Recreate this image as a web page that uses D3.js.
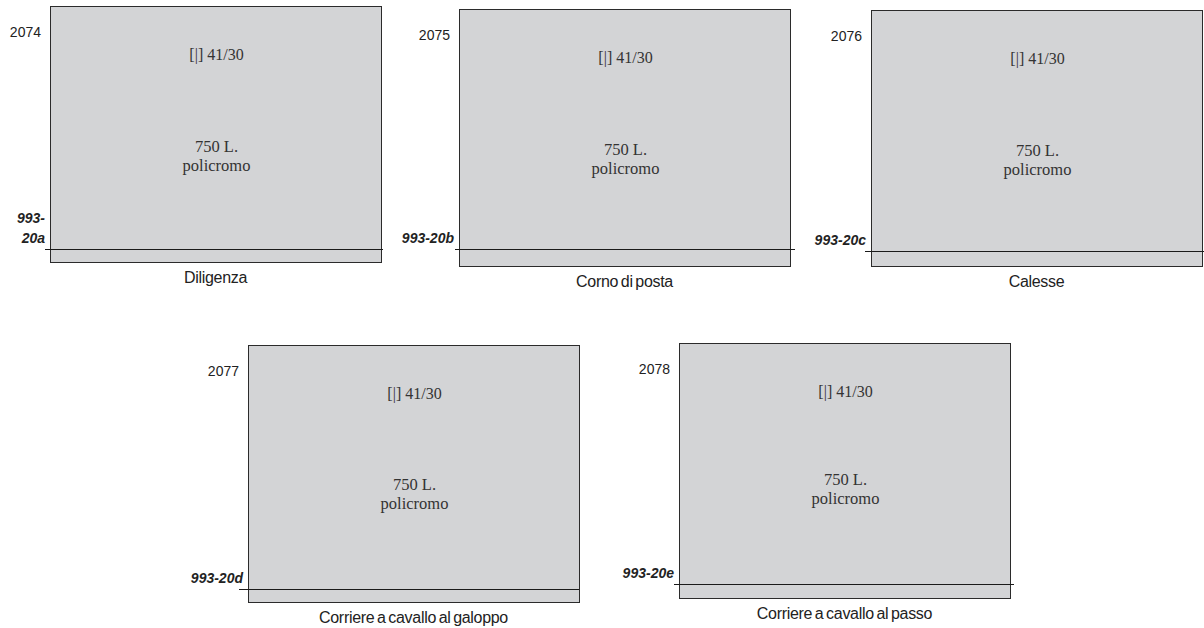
<!DOCTYPE html>
<html>
<head>
<meta charset="utf-8">
<script src="https://cdn.jsdelivr.net/npm/d3@7"></script>
<style>
  body { margin: 0; background: #fff; }
  svg { display: block; }
</style>
</head>
<body>
<div id="sheet"></div>
<script>

var numbers = ["2074", "2075", "2076", "2077", "2078"];
var codes = [["993-", "20a"], ["993-20b"], ["993-20c"], ["993-20d"], ["993-20e"]];
var captions = ["Diligenza", "Corno di posta", "Calesse", "Corriere a cavallo al galoppo", "Corriere a cavallo al passo"];
var perforation = ["[|] 41/30", "[|] 41/30", "[|] 41/30", "[|] 41/30", "[|] 41/30"];
var values = ["750 L.", "750 L.", "750 L.", "750 L.", "750 L."];
var colours = ["policromo", "policromo", "policromo", "policromo", "policromo"];

// where each stamp box sits on the page (left, top, height, line offset from bottom,
// line overhang left/right, small shift of the middle text)
var layout = [
  {x: 50,  y: 6,   h: 256, line: 13, l: 5, r: 2, ty: 0},
  {x: 459, y: 9,   h: 257, line: 17, l: 4, r: 5, ty: 0},
  {x: 871, y: 10,  h: 256, line: 15, l: 6, r: 2, ty: 0},
  {x: 248, y: 345, h: 257, line: 13, l: 9, r: 0, ty: -1},
  {x: 679, y: 343, h: 255, line: 14, l: 5, r: 4, ty: -4}
];
var boxW = 331;

var width = 1204, height = 628;

var svg = d3.select("#sheet")
  .append("svg")
    .attr("width", width)
    .attr("height", height);

var data = numbers.map(function(n, i) {
  return {num: n, code: codes[i], caption: captions[i], perf: perforation[i],
          value: values[i], colour: colours[i], pos: layout[i]};
});

var stamp = svg.selectAll("g.stamp")
  .data(data)
  .enter().append("g")
    .attr("class", "stamp")
    .attr("transform", function(d) { return "translate(" + d.pos.x + "," + d.pos.y + ")"; });

stamp.append("rect")
  .attr("x", 0.5)
  .attr("y", 0.5)
  .attr("width", boxW)
  .attr("height", function(d) { return d.pos.h; })
  .attr("fill", "#d3d4d6")
  .attr("stroke", "#2b2b2b")
  .attr("stroke-width", 1);

stamp.append("line")
  .attr("x1", function(d) { return -d.pos.l; })
  .attr("x2", function(d) { return boxW + d.pos.r; })
  .attr("y1", function(d) { return d.pos.h - d.pos.line + 0.5; })
  .attr("y2", function(d) { return d.pos.h - d.pos.line + 0.5; })
  .attr("stroke", "#1a1a1a")
  .attr("stroke-width", 1);

var sans = "'Liberation Sans', Arial, sans-serif";
var serif = "'Liberation Serif', 'Times New Roman', serif";

// catalogue number
stamp.append("text")
  .attr("x", -9)
  .attr("y", 31)
  .attr("text-anchor", "end")
  .style("font-family", sans)
  .style("font-size", "14px")
  .attr("fill", "#222")
  .text(function(d) { return d.num; });

// reference code, bold italic
stamp.each(function(d) {
  var g = d3.select(this);
  var baseY = d.pos.h - d.pos.line - 6;
  d.code.forEach(function(c, k) {
    g.append("text")
      .attr("x", -5)
      .attr("y", baseY - (d.code.length - 1 - k) * 20)
      .attr("text-anchor", "end")
      .style("font-family", sans)
      .style("font-size", "14px")
      .style("font-weight", "bold")
      .style("font-style", "italic")
      .attr("fill", "#222")
      .text(c);
  });
});

stamp.append("text")
  .attr("x", boxW / 2 + 1)
  .attr("y", 54)
  .attr("text-anchor", "middle")
  .style("font-family", serif)
  .style("font-size", "16px")
  .attr("fill", "#333")
  .text(function(d) { return d.perf; });

stamp.append("text")
  .attr("x", boxW / 2 + 1)
  .attr("y", function(d) { return 146 + d.pos.ty; })
  .attr("text-anchor", "middle")
  .style("font-family", serif)
  .style("font-size", "16.5px")
  .attr("fill", "#333")
  .text(function(d) { return d.value; });

stamp.append("text")
  .attr("x", boxW / 2 + 1)
  .attr("y", function(d) { return 165 + d.pos.ty; })
  .attr("text-anchor", "middle")
  .style("font-family", serif)
  .style("font-size", "16.5px")
  .attr("fill", "#333")
  .text(function(d) { return d.colour; });

stamp.append("text")
  .attr("x", boxW / 2)
  .attr("y", function(d) { return d.pos.h + 21; })
  .attr("text-anchor", "middle")
  .style("font-family", sans)
  .style("font-size", "16px")
  .style("letter-spacing", "-0.3px")
  .style("word-spacing", "-1.5px")
  .attr("fill", "#222")
  .text(function(d) { return d.caption; });

</script>
</body>
</html>
